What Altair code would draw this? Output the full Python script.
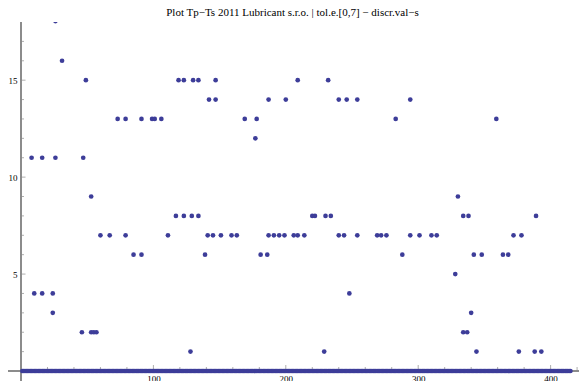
import altair as alt
import pandas as pd

TITLE = "Plot Tp\u2212Ts 2011 Lubricant s.r.o. | tol.e.[0,7] \u2212 discr.val\u2212s"

# samples with value 0 form an unbroken run along the bottom
ZERO_FIRST, ZERO_LAST = 1, 415

# non-zero samples, grouped by value: index positions
X_16 = [31]
X_15 = [49, 119, 123, 130, 134, 147, 209, 232]
X_14 = [142, 147, 187, 200, 240, 246, 254, 294]
X_13 = [73, 79, 91, 99, 101, 106, 169, 178, 283, 359]
X_12 = [177]
X_11 = [8, 16, 26, 47]
X_9 = [53, 330]
X_8 = [117, 123, 129, 134, 220, 222, 230, 234, 334, 338, 389]
X_7 = [60, 67, 79, 111, 141, 145, 151, 159, 163, 187, 191, 195, 199, 206,
       209, 214, 240, 244, 254, 269, 272, 276, 294, 301, 310, 314, 372, 378]
X_6 = [85, 91, 139, 181, 186, 288, 342, 348, 364, 368]
X_5 = [328]
X_4 = [10, 16, 24, 248]
X_3 = [24, 340]
X_2 = [46, 53, 55, 57, 334, 337]
X_1 = [128, 229, 344, 376, 388, 393]
# one sample lies above the plotted range and is cut at the top edge
X_HIGH = [26]
HIGH_VALUE = 18.05

X_MAJOR = [100, 200, 300, 400]
X_MINOR = [20, 40, 60, 80, 120, 140, 160, 180, 220, 240, 260, 280,
           320, 340, 360, 380, 420]
Y_MAJOR = [5, 10, 15]
Y_MINOR = [1, 2, 3, 4, 6, 7, 8, 9, 11, 12, 13, 14, 16, 17]

rows = [(i, 0) for i in range(ZERO_FIRST, ZERO_LAST + 1)]
for value, xs in [(16, X_16), (15, X_15), (14, X_14), (13, X_13), (12, X_12),
                  (11, X_11), (9, X_9), (8, X_8), (7, X_7), (6, X_6),
                  (5, X_5), (4, X_4), (3, X_3), (2, X_2), (1, X_1),
                  (HIGH_VALUE, X_HIGH)]:
    rows += [(i, value) for i in xs]
points = pd.DataFrame(rows, columns=["i", "v"])

W, H = 579, 359
XS = alt.Scale(domain=[-15.86, 421.45], nice=False, zero=False)
YS = alt.Scale(domain=[-0.515, 18], nice=False, zero=False)
AXIS_GREY = "#8c8c8c"
POINT = "#3d3d99"
FONT = "Liberation Serif"

XA = alt.Axis(values=X_MAJOR, orient="bottom", offset=-10, domain=False,
              ticks=False, grid=False, labelFont=FONT, labelFontSize=9,
              labelColor="#000000", labelPadding=3, title=None, format="d")
YA = alt.Axis(values=Y_MAJOR, orient="left", offset=-21, domain=False,
              ticks=False, grid=False, labelFont=FONT, labelFontSize=9,
              labelColor="#000000", labelPadding=4, title=None, format="d")

axis_y_line = alt.Chart(points).mark_rule(color=AXIS_GREY, strokeWidth=1.5).encode(
    x=alt.XDatum(0, scale=XS, axis=XA), y=alt.value(0), y2=alt.value(H))
axis_x_line = alt.Chart(points).mark_rule(color=AXIS_GREY, strokeWidth=1.2).encode(
    y=alt.YDatum(0, scale=YS, axis=YA), x=alt.value(8), x2=alt.value(W))

xt_major = alt.Chart(pd.DataFrame({"t": X_MAJOR})).mark_tick(
    orient="vertical", size=6, thickness=1, yOffset=-3, color=AXIS_GREY).encode(
    x=alt.X("t:Q", scale=XS, axis=XA), y=alt.YDatum(0, scale=YS, axis=YA))
xt_minor = alt.Chart(pd.DataFrame({"t": X_MINOR})).mark_tick(
    orient="vertical", size=4, thickness=1, yOffset=-2, color=AXIS_GREY).encode(
    x=alt.X("t:Q", scale=XS, axis=XA), y=alt.YDatum(0, scale=YS, axis=YA))
yt_major = alt.Chart(pd.DataFrame({"t": Y_MAJOR})).mark_tick(
    orient="horizontal", size=5, thickness=1, xOffset=2, color=AXIS_GREY).encode(
    y=alt.Y("t:Q", scale=YS, axis=YA), x=alt.XDatum(0, scale=XS, axis=XA))
yt_minor = alt.Chart(pd.DataFrame({"t": Y_MINOR})).mark_tick(
    orient="horizontal", size=3, thickness=1, xOffset=1.5, color=AXIS_GREY).encode(
    y=alt.Y("t:Q", scale=YS, axis=YA), x=alt.XDatum(0, scale=XS, axis=XA))

dots = alt.Chart(points).mark_circle(size=22, color=POINT, opacity=1, clip=True).encode(
    x=alt.X("i:Q", scale=XS, axis=XA), y=alt.Y("v:Q", scale=YS, axis=YA))

chart = alt.layer(axis_y_line, axis_x_line, xt_major, xt_minor, yt_major, yt_minor, dots).properties(
    width=W, height=H,
    padding={"left": 0, "top": 22, "right": 0, "bottom": 0},
    autosize=alt.AutoSizeParams(type="none"),
    background="white",
    title=alt.TitleParams(TITLE, font=FONT, fontSize=11, fontWeight="normal",
                          color="#000000", anchor="middle", frame="group",
                          offset=3, dx=3),
).configure_view(stroke=None)

chart.save("out.html", embed_options={"renderer": "svg", "actions": False})
